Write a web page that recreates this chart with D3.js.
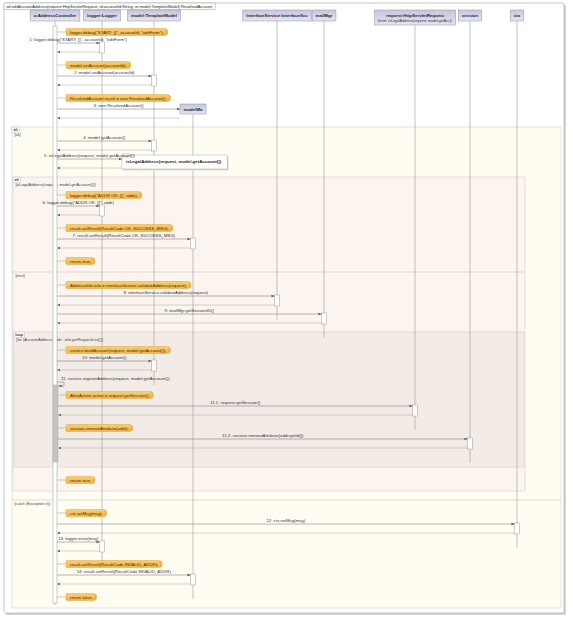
<!DOCTYPE html>
<html><head><meta charset="utf-8">
<script src="https://cdn.jsdelivr.net/npm/d3@7"></script>
<style>body{margin:0;background:#fff}svg{display:block;font-family:"Liberation Sans",Arial,sans-serif}</style>
</head><body><svg id="c" width="573" height="620"></svg>
<script>
// ---------------- DATA ----------------
const title = "sd editAccountAddress(request:HttpServletRequest, id:accountId:String, m:model:TemplateModel):ResolvedAccount";
const participants = ["o:AddressController", "logger:Logger", "model:TemplateModel", "modelMa",
  "InterfaceService:InterfaceSvc", "mailMgr", "request:HttpServletRequest", "session", "ctx"];
const participantSubtitles = ["", "", "", "", "", "", "(from: isLegalAddress(request, model.getAcc))", "", ""];
const createdParticipants = ["modelMa"];
const steps = [
  {type:"note", text:'logger.debug("START: {}", accountId, "editForm");'},
  {type:"call", to:"logger:Logger", label:'1: logger.debug("START: {}", accountId, "editForm")'},
  {type:"note", text:"model.setAccount(accountId);"},
  {type:"call", to:"model:TemplateModel", label:"2: model.setAccount(accountId)"},
  {type:"note", text:"ResolvedAccount result = new ResolvedAccount();"},
  {type:"create", to:"modelMa", label:"3: new ResolvedAccount()"},
  {type:"frame", kind:"alt", cond:"[ok]", last:"ctx"},
  {type:"call", to:"model:TemplateModel", label:"4: model.getAccount()"},
  {type:"callout", box:"isLegalAddress(request, model.getAccount())", label:"5: isLegalAddress(request, model.getAccount())"},
  {type:"frame", kind:"alt", cond:"[isLegalAddress(request, model.getAccount())]", last:"session"},
  {type:"note", text:'logger.debug("ADDR OK: {}", addr);'},
  {type:"call", to:"logger:Logger", label:'6: logger.debug("ADDR OK: {}", addr)'},
  {type:"note", text:"result.setResult(ResultCode.OK, SUCCESS_MSG);"},
  {type:"call", to:"modelMa", label:"7: result.setResult(ResultCode.OK, SUCCESS_MSG)"},
  {type:"note", text:"return true;"},
  {type:"else", cond:"[else]"},
  {type:"note", text:"AddressInfo info = interfaceService.validateAddress(request);"},
  {type:"call", to:"InterfaceService:InterfaceSvc", label:"8: interfaceService.validateAddress(request)"},
  {type:"call", to:"mailMgr", label:"9: mailMgr.getSessionID()"},
  {type:"frame", kind:"loop", cond:"[for (AccountAddress addr : info.getRequestList())]", last:"session"},
  {type:"note", text:"service.bindAccount(request, model.getAccount());"},
  {type:"call", to:"model:TemplateModel", label:"10: model.getAccount()"},
  {type:"self", label:"11: service.registerAddress(request, model.getAccount())"},
  {type:"note", text:"AfterAction action = request.getSession();"},
  {type:"call", to:"request:HttpServletRequest", label:"11.1: request.getSession()"},
  {type:"note", text:"session.removeAttribute(addr);"},
  {type:"call", to:"session", label:"11.2: session.removeAttribute(addr.getId())"},
  {type:"selfEnd"},
  {type:"end"},
  {type:"note", text:"return true;"},
  {type:"end"},
  {type:"else", cond:"[catch (Exception e)]"},
  {type:"note", text:"ctx.setMsg(msg);"},
  {type:"call", to:"ctx", label:"12: ctx.setMsg(msg)"},
  {type:"call", to:"logger:Logger", label:"13: logger.error(msg)"},
  {type:"note", text:"result.setResult(ResultCode.INVALID_ADDR);"},
  {type:"call", to:"modelMa", label:"14: result.setResult(ResultCode.INVALID_ADDR)"},
  {type:"note", text:"return false;"},
  {type:"end"}
];

// ---------------- LAYOUT ----------------
const svg = d3.select("#c");
const x = d3.scaleOrdinal().domain(participants).range([55, 102, 154, 193, 277, 324, 415, 470, 517]);
const P0 = participants[0];
const framePad = [44, 55, 54];
const lay = [], frames = [], stack = [], selfBars = [], lastY = {};
let c = 23, selfOpen = null;
steps.forEach(s => {
  const o = Object.assign({}, s);
  o.fromX = x(P0) + (selfOpen ? 3 : 2);
  if (s.type === "note") { o.y = c + 9; c += 15; lastY[P0] = o.y; }
  else if (s.type === "call" || s.type === "create" || s.type === "callout") {
    o.y = c + 5; o.ry = c + 14; c += 18; if (s.to) lastY[s.to] = o.ry;
  } else if (s.type === "self") {
    o.y0 = c + 8; o.y1 = c + 12; c += 12; selfOpen = {y0: o.y1 - 1};
  } else if (s.type === "selfEnd") {
    selfOpen.y1 = c + 10; c += 10; selfBars.push(selfOpen); selfOpen = null;
  } else if (s.type === "frame") {
    const f = Object.assign({}, s, {top: c + 5, depth: stack.length, elses: []});
    c = f.top + 9; stack.push(f); frames.push(f);
  } else if (s.type === "else") {
    const f = stack[stack.length - 1]; const yy = c + 5; f.elses.push({y: yy, cond: s.cond}); c = yy + 4;
  } else if (s.type === "end") {
    const f = stack.pop(); f.bottom = c + 5; c = f.bottom + 4;
  }
  lay.push(o);
});

const FONT = 4.3;
const defs = svg.append("defs");
const g1 = defs.append("linearGradient").attr("id", "hdr").attr("x1", 0).attr("y1", 0).attr("x2", 0).attr("y2", 1);
g1.append("stop").attr("offset", "0%").attr("stop-color", "#c6c6dd");
g1.append("stop").attr("offset", "100%").attr("stop-color", "#e4e4f1");
const g2 = defs.append("linearGradient").attr("id", "note").attr("x1", 0).attr("y1", 0).attr("x2", 0).attr("y2", 1);
g2.append("stop").attr("offset", "0%").attr("stop-color", "#f8cf72");
g2.append("stop").attr("offset", "100%").attr("stop-color", "#f0b445");

// main frame
svg.append("rect").attr("x", 6).attr("y", 5).attr("width", 560).attr("height", 610).attr("fill", "#d4d4d4");
svg.append("rect").attr("x", 4).attr("y", 3).attr("width", 560).attr("height", 610).attr("rx", 2)
  .attr("fill", "#fff").attr("stroke", "#b8b8b8").attr("stroke-width", 0.8);
const gT = svg.append("g");
const tbox = gT.append("rect");
const tt = gT.append("text").attr("x", 6).attr("y", 7.6).attr("font-size", 4.0).attr("fill", "#222").text(title);
tbox.attr("x", 4).attr("y", 3).attr("width", tt.node().getComputedTextLength() + 5).attr("height", 6.5)
  .attr("fill", "#fff").attr("stroke", "#9a9a9a").attr("stroke-width", 0.5);

// frames
const fillByDepth = ["#fffcf2", "#fcf4ee", "#f2ebe6"];
const gF = svg.append("g");
frames.forEach(f => {
  const left = 12 + f.depth * 0.9, right = x(f.last) + framePad[f.depth];
  gF.append("rect").attr("x", left).attr("y", f.top).attr("width", right - left).attr("height", f.bottom - f.top)
    .attr("fill", fillByDepth[f.depth]).attr("stroke", "#d9d1c7").attr("stroke-width", 0.6);
  const tg = gF.append("g");
  const kr = tg.append("rect");
  const kt = tg.append("text").attr("x", left + 1.5).attr("y", f.top + 4.4).attr("font-size", 3.6)
    .attr("font-weight", "bold").attr("fill", "#333").text(f.kind);
  kr.attr("x", left).attr("y", f.top).attr("width", kt.node().getComputedTextLength() + 3).attr("height", 5.6)
    .attr("fill", "#fff").attr("stroke", "#aaa").attr("stroke-width", 0.4);
  gF.append("text").attr("x", left + 2.5).attr("y", f.top + 9.2).attr("font-size", 3.9).attr("fill", "#444").text(f.cond);
  f.elses.forEach(e => {
    gF.append("line").attr("x1", left).attr("x2", right).attr("y1", e.y).attr("y2", e.y)
      .attr("stroke", "#cfc6bb").attr("stroke-width", 0.6);
    gF.append("text").attr("x", left + 2.5).attr("y", e.y + 4.6).attr("font-size", 3.9).attr("fill", "#444").text(e.cond);
  });
});

// headers & lifelines
const gL = svg.append("g"), gH = svg.append("g");
const headerInfo = {};
participants.forEach((p, i) => {
  const created = createdParticipants.includes(p);
  const cs = created ? lay.find(s => s.type === "create" && s.to === p) : null;
  const sub = participantSubtitles[i];
  const hy = created ? cs.y - 5 : 10;
  const hh = sub ? 15 : (created ? 10 : 11);
  const hg = gH.append("g");
  const hr = hg.append("rect");
  const t = hg.append("text").attr("x", x(p)).attr("y", hy + 7).attr("text-anchor", "middle")
    .attr("font-size", 4.4).attr("font-weight", "bold").attr("fill", "#1e1e2e").text(p);
  let w = t.node().getComputedTextLength();
  if (sub) {
    const st = hg.append("text").attr("x", x(p)).attr("y", hy + 12.3).attr("text-anchor", "middle")
      .attr("font-size", 3.6).attr("fill", "#333").text(sub);
    w = Math.max(w, st.node().getComputedTextLength());
  }
  w += 7;
  hr.attr("x", x(p) - w / 2).attr("y", hy).attr("width", w).attr("height", hh)
    .attr("fill", "url(#hdr)").attr("stroke", "#9e9eb6").attr("stroke-width", 0.6);
  headerInfo[p] = {x0: x(p) - w / 2, bottom: hy + hh};
  const end = (p === P0 ? lastY[P0] + 8 : (lastY[p] || hy + 30) + 15);
  gL.append("line").attr("x1", x(p)).attr("x2", x(p)).attr("y1", hy + hh).attr("y2", end)
    .attr("stroke", "#9a9a9a").attr("stroke-width", 0.6);
});

// main activation
const gA = svg.append("g");
gA.append("rect").attr("x", x(P0) - 2).attr("y", 26).attr("width", 4).attr("height", lastY[P0] + 6 - 26)
  .attr("fill", "#fff").attr("stroke", "#9a9a9a").attr("stroke-width", 0.5);
selfBars.forEach(b => {
  gA.append("rect").attr("x", x(P0) - 2).attr("y", b.y0).attr("width", 5).attr("height", b.y1 - b.y0)
    .attr("fill", "#c4c4c4").attr("stroke", "#a8a8a8").attr("stroke-width", 0.4);
});

// messages
const gM = svg.append("g");
function head(xp, y, dir, col) {
  gM.append("path").attr("d", `M${xp},${y} l${-dir * 3},-1.3 l0,2.6 Z`).attr("fill", col);
}
lay.forEach(s => {
  if (s.type === "note") {
    gM.append("line").attr("x1", x(P0) + 2).attr("x2", 67).attr("y1", s.y).attr("y2", s.y).attr("stroke", "#999").attr("stroke-width", 0.5);
    const ng = gM.append("g");
    const np = ng.append("path");
    const t = ng.append("text").attr("x", 70).attr("y", s.y + 1.5).attr("font-size", FONT).attr("fill", "#3d2f0c").text(s.text);
    const w = t.node().getComputedTextLength() + 7;
    np.attr("d", `M67,${s.y - 3.5} h${w - 3} q3,0 3,3.5 q0,3.5 -3,3.5 h${-(w - 3)} q-1,0 -1,-1 v-5 q0,-1 1,-1 Z`)
      .attr("fill", "url(#note)").attr("stroke", "#e2a53a").attr("stroke-width", 0.5);
    ng.append("path").attr("d", `M${67 + w - 2},${s.y - 2.5} q2,2.5 0,5`).attr("fill", "none").attr("stroke", "#c98d22").attr("stroke-width", 0.4);
  } else if (s.type === "call" || s.type === "create" || s.type === "callout") {
    let tx;
    if (s.type === "create") tx = headerInfo[s.to].x0;
    else if (s.type === "callout") tx = 122;
    else tx = x(s.to) - 2.5;
    if (s.type === "call") {
      gA.append("rect").attr("x", x(s.to) - 2.5).attr("y", s.y - 1).attr("width", 5).attr("height", s.ry - s.y + 2)
        .attr("fill", "#fff").attr("stroke", "#9a9a9a").attr("stroke-width", 0.5);
    }
    if (s.type === "callout") {
      const cg = gM.append("g");
      const sh = cg.append("rect"), bx = cg.append("rect");
      const bt = cg.append("text").attr("x", tx + 4).attr("y", s.y + 4).attr("font-size", 4.4).attr("font-weight", "bold").attr("fill", "#222").text(s.box);
      const bw = bt.node().getComputedTextLength() + 10;
      sh.attr("x", tx + 1.5).attr("y", s.y - 2.5).attr("width", bw).attr("height", 14).attr("fill", "#d8d8d8");
      bx.attr("x", tx).attr("y", s.y - 4).attr("width", bw).attr("height", 14)
        .attr("fill", "#fff").attr("stroke", "#aaa").attr("stroke-width", 0.5);
      cg.append("rect").attr("x", tx + 1).attr("y", s.y - 5).attr("width", 7).attr("height", 3)
        .attr("fill", "#fff").attr("stroke", "#888").attr("stroke-width", 0.4);
    }
    gM.append("line").attr("x1", s.fromX).attr("x2", tx).attr("y1", s.y).attr("y2", s.y).attr("stroke", "#7a7a7a").attr("stroke-width", 0.55);
    head(tx, s.y, 1, "#555");
    gM.append("line").attr("x1", tx).attr("x2", s.fromX).attr("y1", s.ry).attr("y2", s.ry).attr("stroke", "#b0b0b0").attr("stroke-width", 0.55);
    head(s.fromX, s.ry, -1, "#666");
    gM.append("text").attr("x", (s.fromX + tx) / 2).attr("y", s.y - 2.3).attr("text-anchor", "middle")
      .attr("font-size", FONT).attr("fill", "#333").text(s.label);
  } else if (s.type === "self") {
    const x0 = x(P0) + 2, x1 = x(P0) + 9;
    gM.append("path").attr("d", `M${x0},${s.y0} H${x1} V${s.y1} H${x0 + 1.5}`).attr("fill", "none").attr("stroke", "#7a7a7a").attr("stroke-width", 0.55);
    head(x0 + 1.5, s.y1, -1, "#555");
    gM.append("text").attr("x", x(P0) + 6).attr("y", s.y0 - 2).attr("font-size", FONT).attr("fill", "#333").text(s.label);
  }
});
</script></body></html>
